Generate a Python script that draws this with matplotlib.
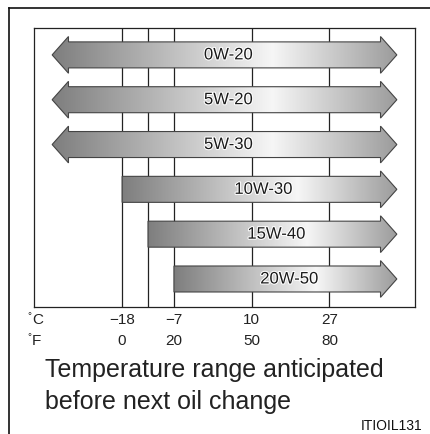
import numpy as np
import matplotlib.pyplot as plt
import matplotlib.patheffects as pe
from matplotlib.colors import LinearSegmentedColormap
from matplotlib.lines import Line2D
from matplotlib.patches import Polygon
from matplotlib.transforms import blended_transform_factory

plt.rcParams['font.family'] = ['Liberation Sans', 'DejaVu Sans']

# oil grades, lowest usable temperature in deg F (None = no lower limit)
grades = ["0W-20", "5W-20", "5W-30", "10W-30", "15W-40", "20W-50"]
low_f = [None, None, None, 0, 10, 20]
grid_f = [0, 10, 20, 50, 80]
c_labels = ["\u221218", "\u22127", "10", "27"]
f_labels = ["0", "20", "50", "80"]
label_f = [0, 20, 50, 80]
units = ["C", "F"]

XMIN, XMAX = -34, 113
OPEN_LO, OPEN_HI = -27, 106
SHAFT, HEAD, HEAD_LEN = 0.29, 0.41, 6.3

grad = LinearSegmentedColormap.from_list(
    "oil", [(0.0, "#7e7e7e"), (0.64, "#f6f6f6"), (1.0, "#9c9c9c")])


def arrow_points(x0, x1, y, double):
    pts = []
    if double:
        pts += [(x0, y), (x0 + HEAD_LEN, y - HEAD), (x0 + HEAD_LEN, y - SHAFT)]
    else:
        pts += [(x0, y + SHAFT), (x0, y - SHAFT)]
    pts += [(x1 - HEAD_LEN, y - SHAFT), (x1 - HEAD_LEN, y - HEAD), (x1, y),
            (x1 - HEAD_LEN, y + HEAD), (x1 - HEAD_LEN, y + SHAFT)]
    if double:
        pts += [(x0 + HEAD_LEN, y + SHAFT), (x0 + HEAD_LEN, y + HEAD)]
    return pts


def main():
    fig = plt.figure(figsize=(4.31, 4.34), dpi=100)
    ax = fig.add_axes([34 / 431, 1 - 307 / 434, 381 / 431, 279 / 434])
    ax.set_xticks([])
    ax.set_yticks([])
    for s in ax.spines.values():
        s.set_linewidth(0.9)
        s.set_color("#222222")

    for x in grid_f:
        ax.axvline(x, color="#222222", lw=0.9, zorder=1)

    ramp = np.linspace(0, 1, 256).reshape(1, -1)
    for i, (name, lo) in enumerate(zip(grades, low_f)):
        double = lo is None
        x0 = OPEN_LO if double else lo
        x1 = OPEN_HI
        poly = Polygon(arrow_points(x0, x1, i, double), closed=True,
                       facecolor="none", edgecolor="#444444", lw=0.8, zorder=3)
        ax.add_patch(poly)
        im = ax.imshow(ramp, cmap=grad, aspect="auto", interpolation="bilinear",
                       extent=(x0, x1, i + HEAD, i - HEAD), zorder=2)
        im.set_clip_path(poly)
        ax.text((x0 + x1) / 2 + 1.5, i, name, ha="center", va="center",
                fontsize=12, color="#1a1a1a", zorder=4,
                path_effects=[pe.withStroke(linewidth=1.5, foreground="white")])

    ax.set_xlim(XMIN, XMAX)
    ax.set_ylim(len(grades) - 1 + 0.625, -0.6)

    tr = blended_transform_factory(ax.transData, fig.transFigure)
    for x, c, f in zip(label_f, c_labels, f_labels):
        ax.text(x, 1 - 320 / 434, c, transform=tr, ha="center", va="center",
                fontsize=11, color="#222222")
        ax.text(x, 1 - 341 / 434, f, transform=tr, ha="center", va="center",
                fontsize=11, color="#222222")
    for k, u in enumerate(units):
        yy = 1 - (320 + 21 * k) / 434
        fig.text(27 / 431, yy + 4 / 434, "\u00b0", ha="left", va="center",
                 fontsize=7, color="#222222")
        fig.text(32 / 431, yy, u, ha="left", va="center",
                 fontsize=11, color="#222222")

    fig.text(45 / 431, 1 - 370 / 434, "Temperature range anticipated",
             ha="left", va="center", fontsize=18, color="#222222")
    fig.text(45 / 431, 1 - 402 / 434, "before next oil change",
             ha="left", va="center", fontsize=18, color="#222222")
    fig.text(422 / 431, 1 - 426 / 434, "ITIOIL131", ha="right", va="center",
             fontsize=10, color="#111111")

    # outer frame: left and top edges only
    fig.add_artist(Line2D([9 / 431, 9 / 431], [0, 1 - 8 / 434],
                          transform=fig.transFigure, color="#111111", lw=1.2))
    fig.add_artist(Line2D([9 / 431, 1], [1 - 8 / 434, 1 - 8 / 434],
                          transform=fig.transFigure, color="#111111", lw=1.2))

    fig.savefig("out.png", dpi=100, facecolor="white")


if __name__ == "__main__":
    main()
